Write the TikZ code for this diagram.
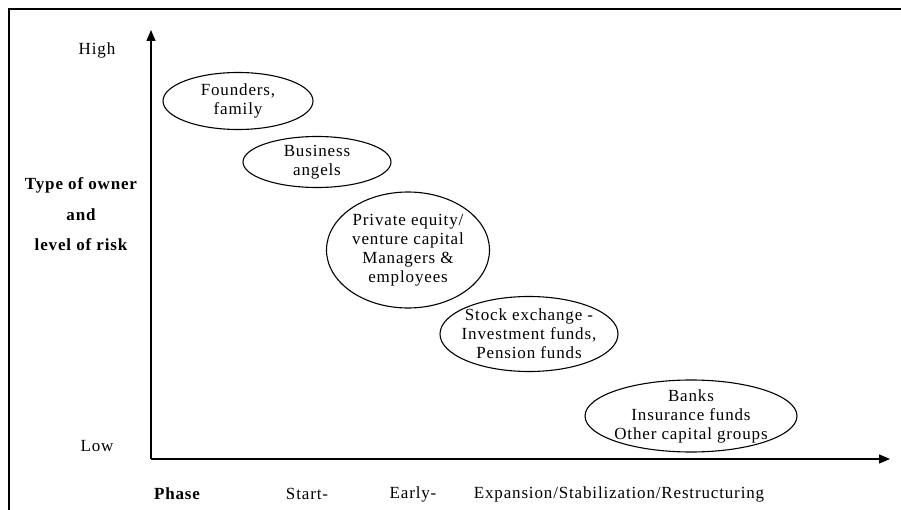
\documentclass[tikz,border=0pt]{standalone}
\usepackage{fontspec}
\setmainfont{Liberation Serif}[LetterSpace=5]
\usetikzlibrary{shapes.geometric,arrows.meta}
\begin{document}
\begin{tikzpicture}[x=1pt,y=-1pt,
  owner/.style={draw,ellipse,line width=1.1pt,inner sep=0pt,align=center,font=\fontsize{17}{19}\selectfont},
  lbl/.style={font=\fontsize{17}{19}\selectfont,inner sep=0pt},
  blbl/.style={font=\fontsize{17}{19}\selectfont\bfseries,inner sep=0pt},
  axis/.style={line width=1.3pt,-{Triangle[length=11pt,width=9pt]}}]
\useasboundingbox (0,0) rectangle (901,510);
\draw[line width=2pt] (9,510) -- (9,9) -- (901,9);
\coordinate (O) at (151,459);
\coordinate (ytop) at (151,30);
\coordinate (xend) at (890,459);
\draw[axis] (O) -- (ytop);
\draw[axis] (O) -- (xend);
\node[owner,minimum width=150pt,minimum height=57pt] (f) at (238,101) {Founders,\\family};
\node[owner,minimum width=148pt,minimum height=51pt] (b) at (317,162) {Business\\angels};
\node[owner,minimum width=163pt,minimum height=116pt] (p) at (408,250) {Private equity/\\venture capital\\Managers \&\\employees};
\node[owner,inner xsep=-11pt,inner ysep=-4pt,minimum width=178pt,minimum height=75pt] (s) at (529,334) {Stock exchange -\\Investment funds,\\Pension funds};
\node[owner,inner xsep=-8pt,inner ysep=-4pt,minimum width=212pt,minimum height=72pt] (k) at (691,416) {Banks\\Insurance funds\\Other capital groups};
\node[lbl] (hi) at (97,50) {High};
\node[lbl] (lo) at (97,446) {Low};
\node[blbl] (t1) at (81,185) {Type of owner};
\node[blbl] (t2) at (81,215) {and};
\node[blbl] (t3) at (81,245) {level of risk};
\node[blbl] (ph) at (177,494) {Phase};
\node[lbl] (st) at (307,494) {Start-};
\node[lbl] (ea) at (413,494) {Early-};
\node[lbl] (ex) at (619,494) {Expansion/Stabilization/Restructuring};
\end{tikzpicture}
\end{document}
